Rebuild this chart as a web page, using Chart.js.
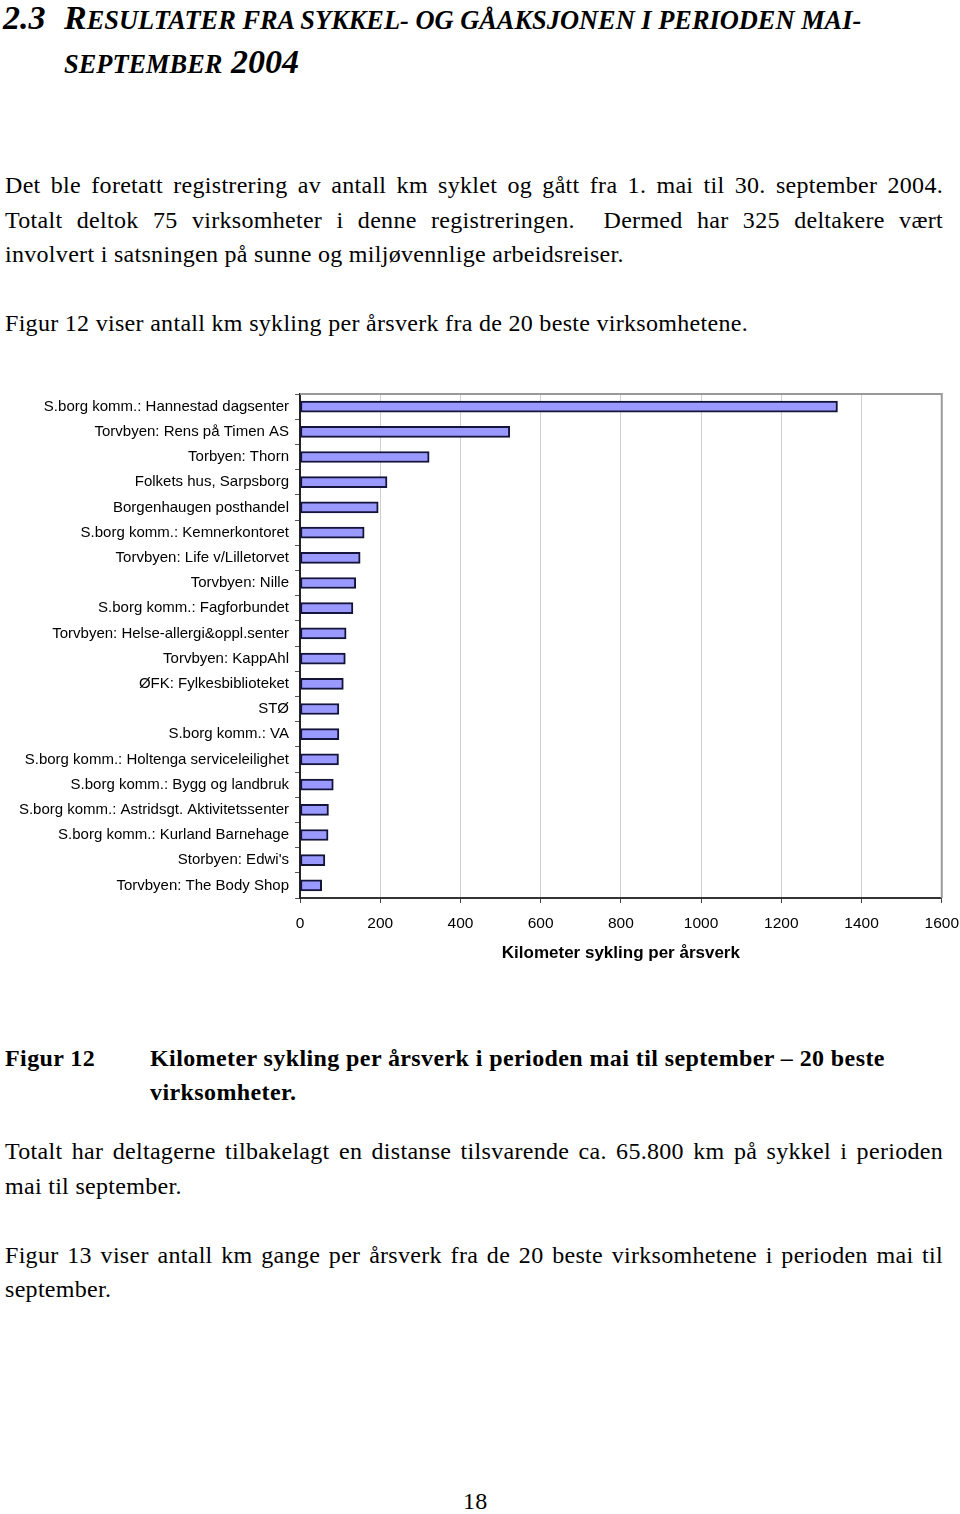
<!DOCTYPE html>
<html>
<head>
<meta charset="utf-8">
<script src="https://cdn.jsdelivr.net/npm/chart.js@4/dist/chart.umd.min.js"></script>
<style>
  body { margin: 0; background: #fff; width: 960px; height: 1514px; position: relative; overflow: hidden; }
  .t { position: absolute; font-family: "Liberation Serif", "Times New Roman", serif; font-size: 24px; color: #000; white-space: nowrap; line-height: 34px; letter-spacing: 0.3px; }
  .j { text-align: justify; text-align-last: justify; width: 938px; white-space: normal; }
  .h { font-weight: bold; font-style: italic; font-size: 34px; letter-spacing: 0; }
  .h .sc { font-size: 26.4px; }
  .b { font-weight: bold; letter-spacing: 0.4px; }
  #wrap { position: absolute; left: 0; top: 379px; width: 970px; height: 594px; }
</style>
</head>
<body>
<div class="t h" style="left:3px; top:1px;">2.3</div>
<div class="t h" style="left:64px; top:1px;">R<span class="sc">ESULTATER FRA SYKKEL- OG GÅAKSJONEN I PERIODEN MAI-</span></div>
<div class="t h" style="left:64px; top:45px;"><span class="sc">SEPTEMBER</span> 2004</div>

<div class="t j" style="left:5px; top:168px;">Det ble foretatt registrering av antall km syklet og gått fra 1. mai til 30. september 2004.</div>
<div class="t j" style="left:5px; top:203px;">Totalt deltok 75 virksomheter i denne registreringen.&nbsp; Dermed har 325 deltakere vært</div>
<div class="t" style="left:5px; top:237px;">involvert i satsningen på sunne og miljøvennlige arbeidsreiser.</div>
<div class="t" style="left:5px; top:306px;">Figur 12 viser antall km sykling per årsverk fra de 20 beste virksomhetene.</div>

<div id="wrap"><canvas id="cycle-chart" width="970" height="594"></canvas></div>

<div class="t b" style="left:5px; top:1041px;">Figur 12</div>
<div class="t b" style="left:150px; top:1041px;">Kilometer sykling per årsverk i perioden mai til september – 20 beste</div>
<div class="t b" style="left:150px; top:1075px;">virksomheter.</div>

<div class="t j" style="left:5px; top:1134px;">Totalt har deltagerne tilbakelagt en distanse tilsvarende ca. 65.800 km på sykkel i perioden</div>
<div class="t" style="left:5px; top:1169px;">mai til september.</div>
<div class="t j" style="left:5px; top:1238px;">Figur 13 viser antall km gange per årsverk fra de 20 beste virksomhetene i perioden mai til</div>
<div class="t" style="left:5px; top:1272px;">september.</div>

<div class="t" style="left:463px; top:1484px;">18</div>

<script>
// workplaces, best first
const places = [
  "S.borg komm.: Hannestad dagsenter",
  "Torvbyen: Rens på Timen AS",
  "Torbyen: Thorn",
  "Folkets hus, Sarpsborg",
  "Borgenhaugen posthandel",
  "S.borg komm.: Kemnerkontoret",
  "Torvbyen: Life v/Lilletorvet",
  "Torvbyen: Nille",
  "S.borg komm.: Fagforbundet",
  "Torvbyen: Helse-allergi&oppl.senter",
  "Torvbyen: KappAhl",
  "ØFK: Fylkesbiblioteket",
  "STØ",
  "S.borg komm.: VA",
  "S.borg komm.: Holtenga serviceleilighet",
  "S.borg komm.: Bygg og landbruk",
  "S.borg komm.: Astridsgt. Aktivitetssenter",
  "S.borg komm.: Kurland Barnehage",
  "Storbyen: Edwi's",
  "Torvbyen: The Body Shop"
];

// km cycled per man-year, May - September 2004
const kmPerYear = [1340, 523, 322, 217, 195, 160, 150, 139, 132, 115, 113, 108, 97, 97, 96, 83, 71, 70, 62, 54];

const xTicks = [0, 200, 400, 600, 800, 1000, 1200, 1400, 1600];

// grey frame round the plot area (top and right)
const plotFrame = {
  id: 'plotFrame',
  beforeDatasetsDraw(chart) {
    const {ctx, chartArea: {left, top, right, bottom}} = chart;
    ctx.save();
    ctx.strokeStyle = '#9a9a9a';
    ctx.lineWidth = 2;
    ctx.beginPath();
    ctx.moveTo(left, top);
    ctx.lineTo(right, top);
    ctx.lineTo(right, bottom);
    ctx.stroke();
    ctx.restore();
  }
};

Chart.defaults.font.family = "'Liberation Sans', Arial, sans-serif";
Chart.defaults.color = '#000';

new Chart("cycle-chart", {
  type: 'bar',
  data: {
    labels: places,
    datasets: [{
      data: kmPerYear,
      backgroundColor: '#9999ff',
      borderColor: '#14143a',
      borderWidth: 2,
      borderSkipped: false,
      barThickness: 11
    }]
  },
  options: {
    indexAxis: 'y',
    responsive: false,
    animation: false,
    layout: { padding: { top: 10, right: 0, left: 0, bottom: 0 } },
    plugins: {
      legend: { display: false },
      tooltip: { enabled: false }
    },
    scales: {
      x: {
        min: 0,
        max: 1600,
        afterBuildTicks: (axis) => { axis.ticks = xTicks.map(v => ({value: v})); },
        afterFit: (axis) => { axis.height = 75; },
        ticks: { font: { size: 15.5 }, padding: 11, callback: (v) => String(v) },
        grid: { color: '#cfcfcf', lineWidth: 1, tickColor: '#444', tickLength: 5 },
        border: { display: true, color: '#333', width: 2 },
        title: {
          display: true,
          text: 'Kilometer sykling per årsverk',
          font: { size: 17, weight: 'bold' },
          padding: { top: 0, bottom: 9 }
        }
      },
      y: {
        afterFit: (axis) => { axis.width = 300; },
        ticks: { font: { size: 15 }, padding: 6, autoSkip: false },
        grid: { offset: true, drawOnChartArea: false, tickLength: 5, tickColor: '#555' },
        border: { display: true, color: '#222', width: 2 }
      }
    }
  },
  plugins: [plotFrame]
});
</script>
</body>
</html>
